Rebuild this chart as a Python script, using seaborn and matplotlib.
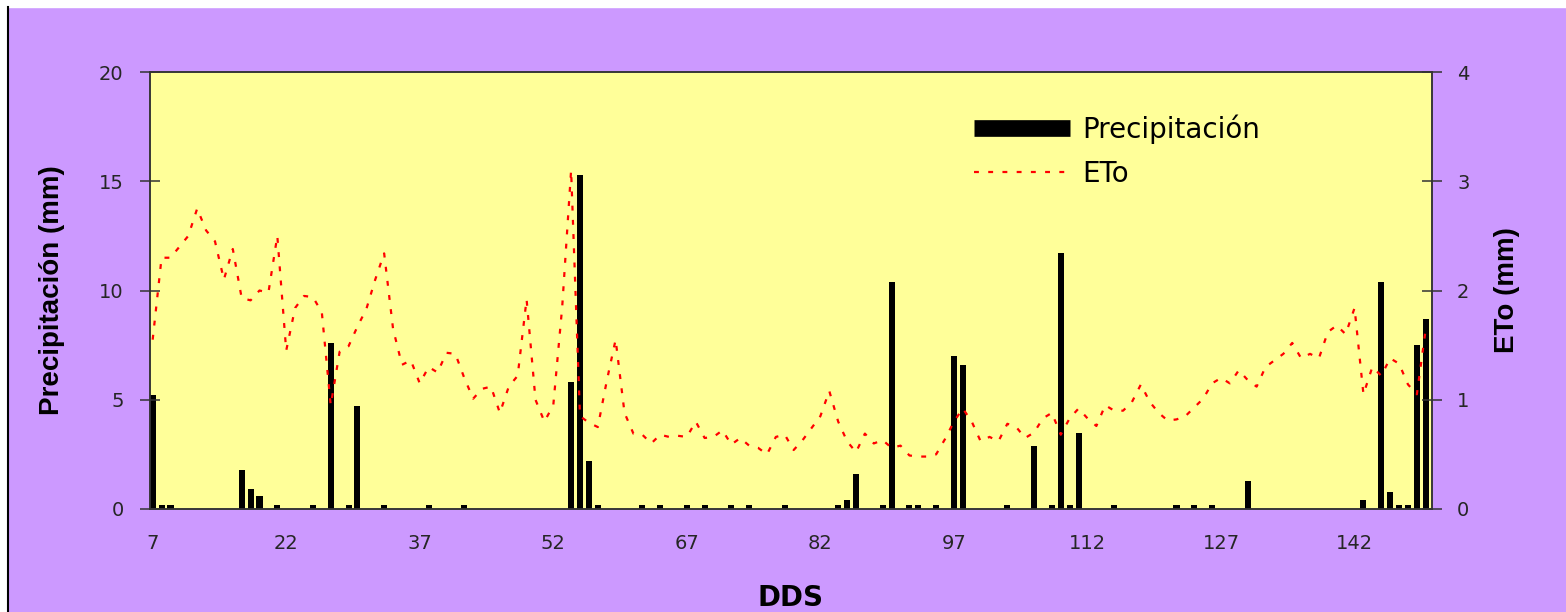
import numpy as np
import seaborn as sns
import matplotlib.pyplot as plt
from matplotlib.lines import Line2D
from matplotlib.patches import Rectangle

# days after sowing (DDS) with rain, and rain amount (mm)
rain_days = [7, 8, 9, 17, 18, 19, 21, 25, 27, 29, 30, 33, 38, 42, 54, 55, 56, 57,
             62, 64, 67, 69, 72, 74, 78, 84, 85, 86, 89, 90, 92, 93, 95, 97, 98,
             103, 106, 108, 109, 110, 111, 115, 122, 124, 126, 130, 143, 145, 146,
             147, 148, 149, 150]
rain_mm = [5.2, 0.2, 0.2, 1.8, 0.9, 0.6, 0.2, 0.2, 7.6, 0.2, 4.7, 0.2, 0.2, 0.2,
           5.8, 15.3, 2.2, 0.2, 0.2, 0.2, 0.2, 0.2, 0.2, 0.2, 0.2, 0.2, 0.4, 1.6,
           0.2, 10.4, 0.2, 0.2, 0.2, 7.0, 6.6, 0.2, 2.9, 0.2, 11.7, 0.2, 3.5, 0.2,
           0.2, 0.2, 0.2, 1.3, 0.4, 10.4, 0.8, 0.2, 0.2, 7.5, 8.7]

# daily ETo (mm), days 7..150
eto_days = list(range(7, 151))
eto_mm = [1.55, 2.3, 2.3, 2.4, 2.5, 2.75, 2.55, 2.45, 2.1, 2.38,
          1.93, 1.91, 2.0, 1.98, 2.5, 1.45, 1.84, 1.95, 1.94, 1.8,
          0.95, 1.44, 1.49, 1.67, 1.83, 2.1, 2.34, 1.65, 1.32, 1.36,
          1.15, 1.3, 1.25, 1.43, 1.42, 1.2, 1.01, 1.1, 1.12, 0.88,
          1.12, 1.22, 1.92, 1.0, 0.8, 0.95, 1.85, 3.1, 0.85, 0.79,
          0.75, 1.17, 1.55, 0.88, 0.69, 0.68, 0.6, 0.68, 0.66, 0.67,
          0.66, 0.8, 0.65, 0.66, 0.72, 0.59, 0.65, 0.58, 0.56, 0.5,
          0.66, 0.68, 0.54, 0.63, 0.74, 0.85, 1.08, 0.8, 0.62, 0.52,
          0.69, 0.6, 0.63, 0.56, 0.58, 0.49, 0.48, 0.48, 0.5, 0.64,
          0.8, 0.92, 0.8, 0.62, 0.66, 0.62, 0.78, 0.75, 0.65, 0.7,
          0.83, 0.88, 0.68, 0.83, 0.92, 0.83, 0.76, 0.95, 0.9, 0.9,
          0.98, 1.14, 0.98, 0.88, 0.81, 0.82, 0.85, 0.93, 1.01, 1.15,
          1.2, 1.15, 1.27, 1.18, 1.12, 1.3, 1.36, 1.42, 1.52, 1.38,
          1.42, 1.38, 1.62, 1.68, 1.6, 1.84, 1.05, 1.3, 1.22, 1.38,
          1.33, 1.14, 1.05, 1.65]

xticks = list(range(7, 150, 15))

purple = '#CC99FF'
yellow = '#FFFF99'
spine_col = '#333333'
dots = (0, (2.2, 4.2))

fig = plt.figure(figsize=(15.66, 6.12), dpi=100, facecolor=purple)
ax = fig.add_axes([150/1566, 103/612, 1282/1566, 437/612])
ax.set_facecolor(yellow)

sns.barplot(x=rain_days, y=rain_mm, native_scale=True, color='black',
            saturation=1, width=0.68, linewidth=0, ax=ax)
ax.set_xlim(6.7, 150.7)
ax.set_ylim(0, 20)
ax.set_yticks(range(0, 21, 5))
ax.set_xticks(xticks)
ax.set_xticklabels([str(t) for t in xticks])

ax2 = ax.twinx()
sns.lineplot(x=eto_days, y=eto_mm, ax=ax2, color='red', linewidth=1.6,
             linestyle=dots)
ax2.set_ylim(0, 4)
ax2.set_yticks(range(0, 5))

for a in (ax, ax2):
    for s in a.spines.values():
        s.set_color(spine_col)
        s.set_linewidth(1.1)

ax.tick_params(axis='y', direction='inout', length=14, width=1.1, pad=12,
               labelsize=14, colors=spine_col, labelcolor='#262626')
ax.tick_params(axis='x', length=0, pad=18, labelsize=14, labelcolor='#262626')
ax2.tick_params(axis='y', direction='inout', length=14, width=1.1, pad=11,
                labelsize=14, colors=spine_col, labelcolor='#262626')

ax.set_ylabel('Precipitación (mm)', fontsize=20, fontweight='bold',
              family='Liberation Sans')
ax.yaxis.set_label_coords(-0.066, 0.5)
ax2.set_ylabel('ETo (mm)', fontsize=20, fontweight='bold',
               family='Liberation Sans')
ax2.yaxis.set_label_coords(1.048, 0.5)
ax.set_xlabel('DDS', fontsize=20, fontweight='bold')
ax.xaxis.set_label_coords(0.5, -0.172)

handles = [Line2D([], [], color='black', lw=12, solid_capstyle='butt'),
           Line2D([], [], color='red', lw=1.6, linestyle=dots)]
fig.legend(handles, ['Precipitación', 'ETo'], loc='upper left',
           bbox_to_anchor=(974/1566, 1 - 114/612), frameon=False,
           fontsize=20, handlelength=3.45, handletextpad=0.43,
           labelspacing=0.6, borderpad=0, borderaxespad=0)

# white margin and dark border of the chart area
fig.add_artist(Rectangle((0, 605/612), 1, 7/612, transform=fig.transFigure,
                         color='white', zorder=-1))
fig.add_artist(Rectangle((0, 0), 7/1566, 1, transform=fig.transFigure,
                         color='white', zorder=-1))
fig.add_artist(Line2D([8/1566, 8/1566], [0, 605/612], transform=fig.transFigure,
                      color='black', lw=1.5))

fig.savefig('out.png', dpi=100, facecolor=purple)
